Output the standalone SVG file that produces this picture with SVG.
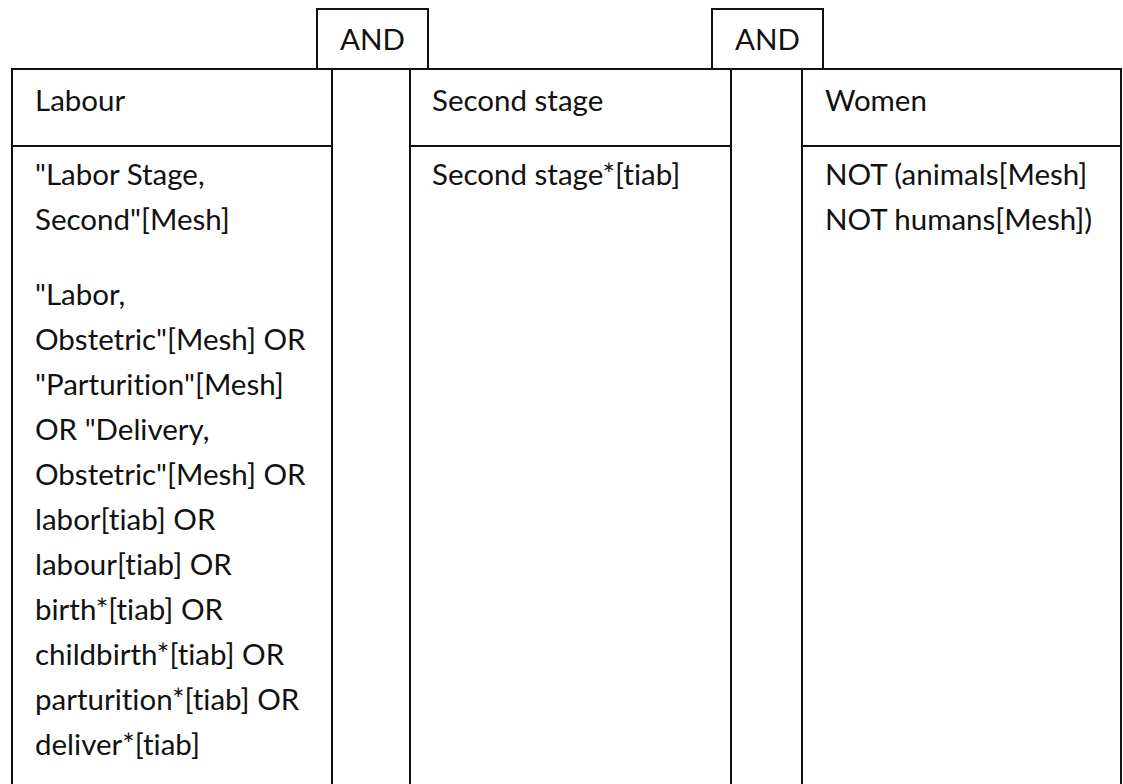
<svg xmlns="http://www.w3.org/2000/svg" width="1123" height="784" viewBox="0 0 1123 784">
<style>
.box{fill:#fff;stroke:#111;stroke-width:2}
.ln{stroke:#111;stroke-width:2}
.t{font-family:Lato,"Open Sans",sans-serif;font-size:29.5px;fill:#111;font-variant-ligatures:none;font-feature-settings:"liga" 0}
</style>
<rect width="1123" height="784" fill="#fff"/>
<g id="labour">
<rect class="box" x="12" y="69" width="320" height="740"/>
<line class="ln" x1="12" y1="146" x2="332" y2="146"/>
<text class="t" x="35" y="111">Labour</text>
<text class="t" x="35">
<tspan x="35" y="185">"Labor Stage,</tspan>
<tspan x="35" y="230">Second"[Mesh]</tspan>
<tspan x="35" y="305">"Labor,</tspan>
<tspan x="35" y="350">Obstetric"[Mesh] OR</tspan>
<tspan x="35" y="395">"Parturition"[Mesh]</tspan>
<tspan x="35" y="440">OR "Delivery,</tspan>
<tspan x="35" y="485">Obstetric"[Mesh] OR</tspan>
<tspan x="35" y="530">labor[tiab] OR</tspan>
<tspan x="35" y="575">labour[tiab] OR</tspan>
<tspan x="35" y="620">birth*[tiab] OR</tspan>
<tspan x="35" y="665">childbirth*[tiab] OR</tspan>
<tspan x="35" y="710">parturition*[tiab] OR</tspan>
<tspan x="35" y="755">deliver*[tiab]</tspan>
</text>
</g>
<g id="second">
<rect class="box" x="410" y="69" width="321" height="740"/>
<line class="ln" x1="410" y1="146" x2="731" y2="146"/>
<text class="t" x="432" y="111">Second stage</text>
<text class="t" x="432" y="185">Second stage*[tiab]</text>
</g>
<g id="women">
<rect class="box" x="802" y="69" width="319" height="740"/>
<line class="ln" x1="802" y1="146" x2="1121" y2="146"/>
<text class="t" x="825" y="111">Women</text>
<text class="t"><tspan x="825" y="185">NOT (animals[Mesh]</tspan><tspan x="825" y="230">NOT humans[Mesh])</tspan></text>
</g>
<g id="connectors">
<rect class="box" x="332" y="69" width="78" height="740"/>
<rect class="box" x="731" y="69" width="71" height="740"/>
</g>
<g id="and1">
<rect class="box" x="317" y="9" width="111" height="60"/>
<text class="t" x="372.5" y="50" text-anchor="middle">AND</text>
</g>
<g id="and2">
<rect class="box" x="712" y="9" width="111" height="60"/>
<text class="t" x="767.5" y="50" text-anchor="middle">AND</text>
</g>
</svg>
